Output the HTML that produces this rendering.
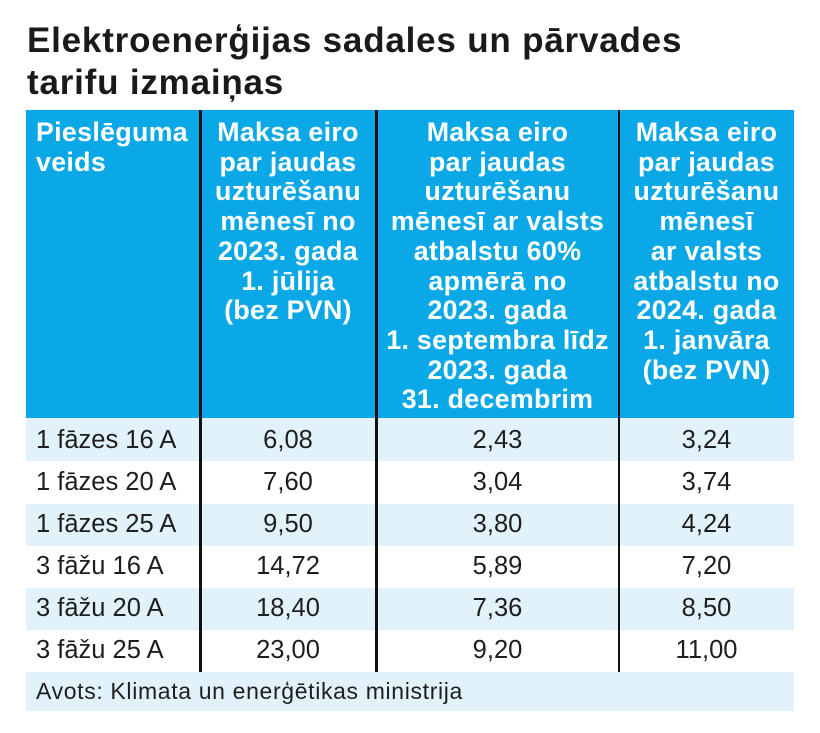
<!DOCTYPE html>
<html><head><meta charset="utf-8">
<style>
html,body{margin:0;padding:0;background:#fff;}
body{width:820px;height:733px;position:relative;overflow:hidden;font-family:"Liberation Sans",sans-serif;}
.title{position:absolute;left:27px;font-weight:bold;font-size:35px;color:#1a1a1a;letter-spacing:0.8px;white-space:nowrap;line-height:1;}
.hdr{position:absolute;top:110px;height:308px;background:#0aa8e6;}
.htxt{position:absolute;top:118px;color:#fff;font-weight:bold;font-size:26.8px;line-height:29.7px;letter-spacing:0.3px;white-space:nowrap;}
.row{position:absolute;left:26px;width:768px;height:42px;}
.lb{background:#e2f2fb;}
.cell{position:absolute;font-size:25.5px;color:#1e1e1e;white-space:nowrap;line-height:42px;}
.c{text-align:center;}
.div{position:absolute;top:110px;height:562px;width:2.5px;background:#111;}
</style></head><body>
<div class="title" style="top:23px;">Elektroenerģijas sadales un pārvades</div>
<div class="title" style="top:65px;">tarifu izmaiņas</div>

<div class="hdr" style="left:26px;width:768px;"></div>

<div class="htxt" style="left:36px;">Pieslēguma<br>veids</div>
<div class="htxt c" style="left:200px;width:176px;">Maksa eiro<br>par jaudas<br>uzturēšanu<br>mēnesī no<br>2023. gada<br>1. jūlija<br>(bez PVN)</div>
<div class="htxt c" style="left:376px;width:243px;">Maksa eiro<br>par jaudas<br>uzturēšanu<br>mēnesī ar valsts<br>atbalstu 60%<br>apmērā no<br>2023. gada<br>1. septembra līdz<br>2023. gada<br>31. decembrim</div>
<div class="htxt c" style="left:619px;width:175px;">Maksa eiro<br>par jaudas<br>uzturēšanu<br>mēnesī<br>ar valsts<br>atbalstu no<br>2024. gada<br>1. janvāra<br>(bez PVN)</div>

<div class="row lb" style="top:418px;height:43px;"></div>
<div class="row" style="top:461px;height:43px;"></div>
<div class="row lb" style="top:504px;"></div>
<div class="row" style="top:546px;"></div>
<div class="row lb" style="top:588px;"></div>
<div class="row" style="top:630px;"></div>
<div class="row lb" style="top:672px;height:39px;"></div>

<div class="cell" style="left:36px;top:419px;">1 fāzes 16 A</div>
<div class="cell c" style="left:200px;width:176px;top:419px;">6,08</div>
<div class="cell c" style="left:376px;width:243px;top:419px;">2,43</div>
<div class="cell c" style="left:619px;width:175px;top:419px;">3,24</div>

<div class="cell" style="left:36px;top:461px;">1 fāzes 20 A</div>
<div class="cell c" style="left:200px;width:176px;top:461px;">7,60</div>
<div class="cell c" style="left:376px;width:243px;top:461px;">3,04</div>
<div class="cell c" style="left:619px;width:175px;top:461px;">3,74</div>

<div class="cell" style="left:36px;top:503px;">1 fāzes 25 A</div>
<div class="cell c" style="left:200px;width:176px;top:503px;">9,50</div>
<div class="cell c" style="left:376px;width:243px;top:503px;">3,80</div>
<div class="cell c" style="left:619px;width:175px;top:503px;">4,24</div>

<div class="cell" style="left:36px;top:545px;">3 fāžu 16 A</div>
<div class="cell c" style="left:200px;width:176px;top:545px;">14,72</div>
<div class="cell c" style="left:376px;width:243px;top:545px;">5,89</div>
<div class="cell c" style="left:619px;width:175px;top:545px;">7,20</div>

<div class="cell" style="left:36px;top:587px;">3 fāžu 20 A</div>
<div class="cell c" style="left:200px;width:176px;top:587px;">18,40</div>
<div class="cell c" style="left:376px;width:243px;top:587px;">7,36</div>
<div class="cell c" style="left:619px;width:175px;top:587px;">8,50</div>

<div class="cell" style="left:36px;top:629px;">3 fāžu 25 A</div>
<div class="cell c" style="left:200px;width:176px;top:629px;">23,00</div>
<div class="cell c" style="left:376px;width:243px;top:629px;">9,20</div>
<div class="cell c" style="left:619px;width:175px;top:629px;">11,00</div>

<div class="cell" style="left:36px;top:672px;line-height:39px;font-size:23px;letter-spacing:0.65px;">Avots: Klimata un enerģētikas ministrija</div>

<div class="div" style="left:199px;"></div>
<div class="div" style="left:375px;"></div>
<div class="div" style="left:617.5px;"></div>
</body></html>
